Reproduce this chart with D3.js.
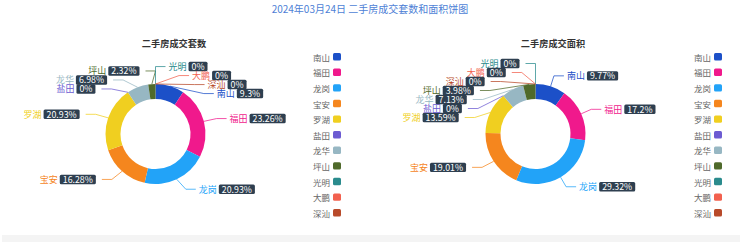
<!DOCTYPE html>
<html>
<head>
<meta charset="utf-8">
<script src="https://cdn.jsdelivr.net/npm/d3@7"></script>
<style>
  html, body { margin: 0; padding: 0; background: #fff; }
  svg { display: block; font-family: "Noto Sans CJK SC", "Noto Sans", sans-serif; }
</style>
</head>
<body>
<div id="chart"></div>
<script>
// 数据
const titleText = "2024年03月24日 二手房成交套数和面积饼图";
const chartTitles = ["二手房成交套数", "二手房成交面积"];
const districts = ["南山", "福田", "龙岗", "宝安", "罗湖", "盐田", "龙华", "坪山", "光明", "大鹏", "深汕"];
const dealCounts = [4, 10, 9, 7, 9, 0, 3, 1, 0, 0, 0];
const dealAreaShare = [9.77, 17.2, 29.32, 19.01, 13.59, 0, 7.13, 3.98, 0, 0, 0];
const colors = ["#1c50c8", "#f0198c", "#22a3f8", "#f5861e", "#f0cf20", "#6c5bd2",
                "#97b7c3", "#4f6a2b", "#2a8b8d", "#f2614f", "#b84a2a"];

const W = 740, H = 244;
const rOuter = 50, rInner = 35;
const len1 = 11, len2 = 10, gap = 3, lineH = 9;

// zeroSide: 末尾零值扇区的标签放哪一侧
const charts = [
  { values: dealCounts, cx: 155.5, cy: 134, titleX: 174, legendX: 330, zeroSide: 1 },
  { values: dealAreaShare, cx: 535.5, cy: 134, titleX: 553, legendX: 711, zeroSide: -1 }
];

// 百分比 (最大余额法, 保证总和为100)
function percents(values, precision) {
  const sum = d3.sum(values);
  const digits = Math.pow(10, precision);
  const target = digits * 100;
  const votes = values.map(v => v / sum * target);
  const seats = votes.map(Math.floor);
  const rem = votes.map((v, i) => v - seats[i]);
  let cur = d3.sum(seats);
  while (cur < target) {
    const i = d3.maxIndex(rem);
    seats[i]++; rem[i] = -1; cur++;
  }
  return seats.map(s => +(s / digits).toFixed(precision));
}

const svg = d3.select("#chart").append("svg")
  .attr("width", W).attr("height", H);

svg.append("rect").attr("x", 2).attr("y", 235).attr("width", W - 2).attr("height", 7)
  .attr("fill", "#f4f4f4");

svg.append("text").attr("x", W / 2).attr("y", 8)
  .attr("text-anchor", "middle").attr("dominant-baseline", "central")
  .attr("font-size", 10).attr("fill", "#4e7fd6").text(titleText);

const pie = d3.pie().sort(null).value(d => d.value);
const arc = d3.arc().innerRadius(rInner).outerRadius(rOuter);

charts.forEach((c, ci) => {
  const g = svg.append("g");
  const pcts = percents(c.values, 2);
  const items = districts.map((name, i) => ({ name, value: c.values[i], pct: pcts[i], color: colors[i] }));

  g.append("text").attr("x", c.titleX).attr("y", 43)
    .attr("text-anchor", "middle").attr("dominant-baseline", "central")
    .attr("font-size", 9.2).attr("font-weight", "bold").attr("fill", "#333")
    .text(chartTitles[ci]);

  const arcs = pie(items);
  const pg = g.append("g").attr("transform", `translate(${c.cx},${c.cy})`);
  pg.selectAll("path").data(arcs).join("path")
    .attr("d", arc).attr("fill", d => d.data.color);

  // 标签布局
  const rA = rOuter + len1;
  const rX = rA + 2;
  const labels = arcs.map(d => {
    const mid = (d.startAngle + d.endAngle) / 2;
    const sx = Math.sin(mid), sy = -Math.cos(mid);
    let dir = sx >= 0 ? 1 : -1;
    if (Math.abs(sx) < 1e-6) dir = c.zeroSide;
    const ex = c.cx + rA * sx, ey = c.cy + rA * sy;
    return { d, dir, ax: c.cx + rOuter * sx, ay: c.cy + rOuter * sy,
             ex0: ex, ex: ex, y0: ey, y: ey };
  });

  [1, -1].forEach(dir => {
    const list = labels.filter(l => l.dir === dir);
    list.sort((a, b) => a.y0 - b.y0);
    const clusters = [];
    let cur = null, shifted = false;
    list.forEach((it, i) => {
      if (i > 0 && it.y < list[i - 1].y + lineH) {
        it.y = list[i - 1].y + lineH; cur.push(it); shifted = true;
      } else { cur = [it]; clusters.push(cur); }
    });
    let prevY = -Infinity;
    clusters.forEach(cl => {
      if (cl.length > 1) {
        let s = d3.mean(cl, it => it.y - it.y0) / 2;
        s = Math.min(s, cl[0].y - (prevY + lineH));
        cl.forEach(it => { it.y -= s; });
      }
      prevY = cl[cl.length - 1].y;
    });
    if (!shifted) return;
    list.forEach(it => {
      const dy = Math.abs(it.y - c.cy);
      it.ex = c.cx + dir * Math.sqrt(Math.max(0, rX * rX - dy * dy));
    });
  });

  const lg = g.append("g");
  lg.selectAll("polyline").data(labels).join("polyline")
    .attr("points", l => [[l.ax, l.ay], [l.ex, l.y], [l.ex + l.dir * len2, l.y]].join(" "))
    .attr("fill", "none").attr("stroke", l => l.d.data.color)
    .attr("stroke-opacity", 0.75).attr("stroke-width", 1);

  labels.forEach(l => {
    const x0 = l.ex + l.dir * (len2 + (l.dir > 0 ? gap : gap + 3));
    const lab = g.append("g");
    const nameT = lab.append("text").attr("dominant-baseline", "central")
      .attr("font-size", 9).attr("fill", l.d.data.color).attr("y", l.y)
      .text(l.d.data.name);
    const box = lab.append("rect").attr("fill", "#2e3f50").attr("rx", 1.5)
      .attr("height", 9.4).attr("y", l.y - 4.7);
    const pctT = lab.append("text").attr("dominant-baseline", "central")
      .attr("font-size", 8.8).attr("fill", "#fff").attr("y", l.y)
      .text(l.d.data.pct + "%");
    const nw = nameT.node().getComputedTextLength();
    const pw = pctT.node().getComputedTextLength();
    const bw = pw + 6;
    let nx, bx;
    if (l.dir > 0) { nx = x0; bx = x0 + nw + 2; }
    else { bx = x0 - bw; nx = bx - 2 - nw; }
    nameT.attr("x", nx);
    box.attr("x", bx).attr("width", bw);
    pctT.attr("x", bx + 3);
  });

  // 图例
  const leg = g.append("g");
  districts.forEach((name, i) => {
    const y = 56.7 + i * 15.6;
    leg.append("text").attr("x", c.legendX).attr("y", y)
      .attr("text-anchor", "end").attr("dominant-baseline", "central")
      .attr("font-size", 8.5).attr("fill", "#666").text(name);
    leg.append("rect").attr("x", c.legendX + 3).attr("y", y - 3.7)
      .attr("width", 8).attr("height", 7.4).attr("rx", 1.5).attr("fill", colors[i]);
  });
});
</script>
</body>
</html>
